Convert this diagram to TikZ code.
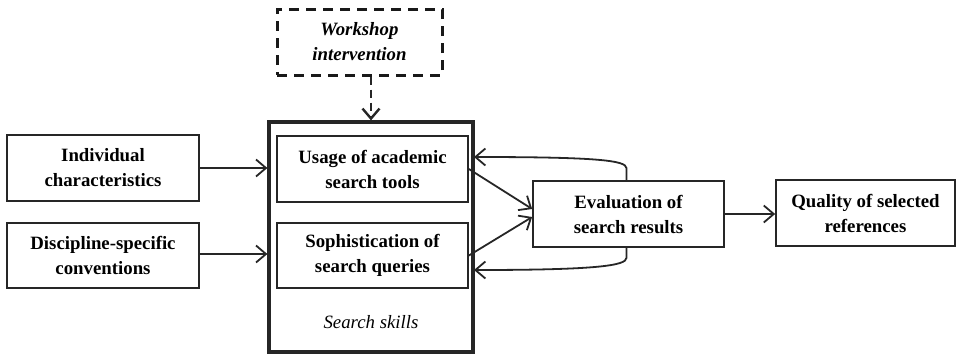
\documentclass[tikz,border=0pt]{standalone}
\usepackage{fontspec}
\setmainfont{Liberation Serif}
\usetikzlibrary{arrows.meta,calc}
\begin{document}
\begin{tikzpicture}[x=1pt,y=-1pt,
  box/.style={draw=black!85,line width=1.7pt,rectangle,inner sep=0pt,align=center,
    font=\fontsize{18.8}{25}\selectfont\bfseries},
  arr/.style={draw=black!85,line width=1.8pt,-{Straight Barb[length=10pt,width=17pt,line width=1.8pt]}},
]
\useasboundingbox (0,0) rectangle (961,357);
\node[box,minimum width=192pt,minimum height=66pt] (ind) at (103,168) {Individual\\characteristics};
\node[box,minimum width=192pt,minimum height=65pt] (dis) at (103,255.5) {Discipline-specific\\conventions};
\node[draw=black!85,line width=3.2pt,rectangle,minimum width=204pt,minimum height=230pt,inner sep=0pt] (skills) at (371,237) {};
\node[box,minimum width=191pt,minimum height=66pt] (usage) at (372.5,169) {Usage of academic\\search tools};
\node[box,minimum width=191pt,minimum height=65pt] (soph) at (372.5,255.5) {Sophistication of\\search queries};
\node[font=\fontsize{18.8}{25}\selectfont\itshape] (sslabel) at (371,322) {Search skills};
\node[box,draw=black!90,line width=3pt,dash pattern=on 10pt off 7pt,minimum width=165pt,minimum height=66pt,font=\fontsize{18.8}{25}\selectfont\bfseries\itshape] (work) at (359.5,42) {Workshop\\intervention};
\node[box,minimum width=191pt,minimum height=66pt] (eval) at (628.5,214) {Evaluation of\\search results};
\node[box,minimum width=179pt,minimum height=66pt] (qual) at (865.5,213) {Quality of selected\\references};
\coordinate (fbtop) at (474,157);
\coordinate (fbbot) at (474,270);
\draw[arr,line width=2.8pt,dash pattern=on 8pt off 5pt,-{Straight Barb[length=10pt,width=17pt,line width=2.4pt]}] (work.south -| skills.north) -- (skills.north);
\draw[arr] (ind.east) -- (ind.east -| skills.west);
\draw[arr] ([yshift=1.5pt]dis.east) -- ([yshift=1.5pt]dis.east -| skills.west);
\draw[arr] (usage.east) -- ([yshift=5pt]eval.west);
\draw[arr] (soph.east) -- ([yshift=-3pt]eval.west);
\draw[arr] (eval.east) -- (eval.east -| qual.west);
\draw[arr] ([xshift=-2pt]eval.north) -- ++(0,-12) .. controls ++(0,-8) and ($(fbtop)+(120,0)$) .. (fbtop);
\draw[arr] ([xshift=-2pt]eval.south) -- ++(0,10) .. controls ++(0,8) and ($(fbbot)+(120,0)$) .. (fbbot);
\end{tikzpicture}
\end{document}
